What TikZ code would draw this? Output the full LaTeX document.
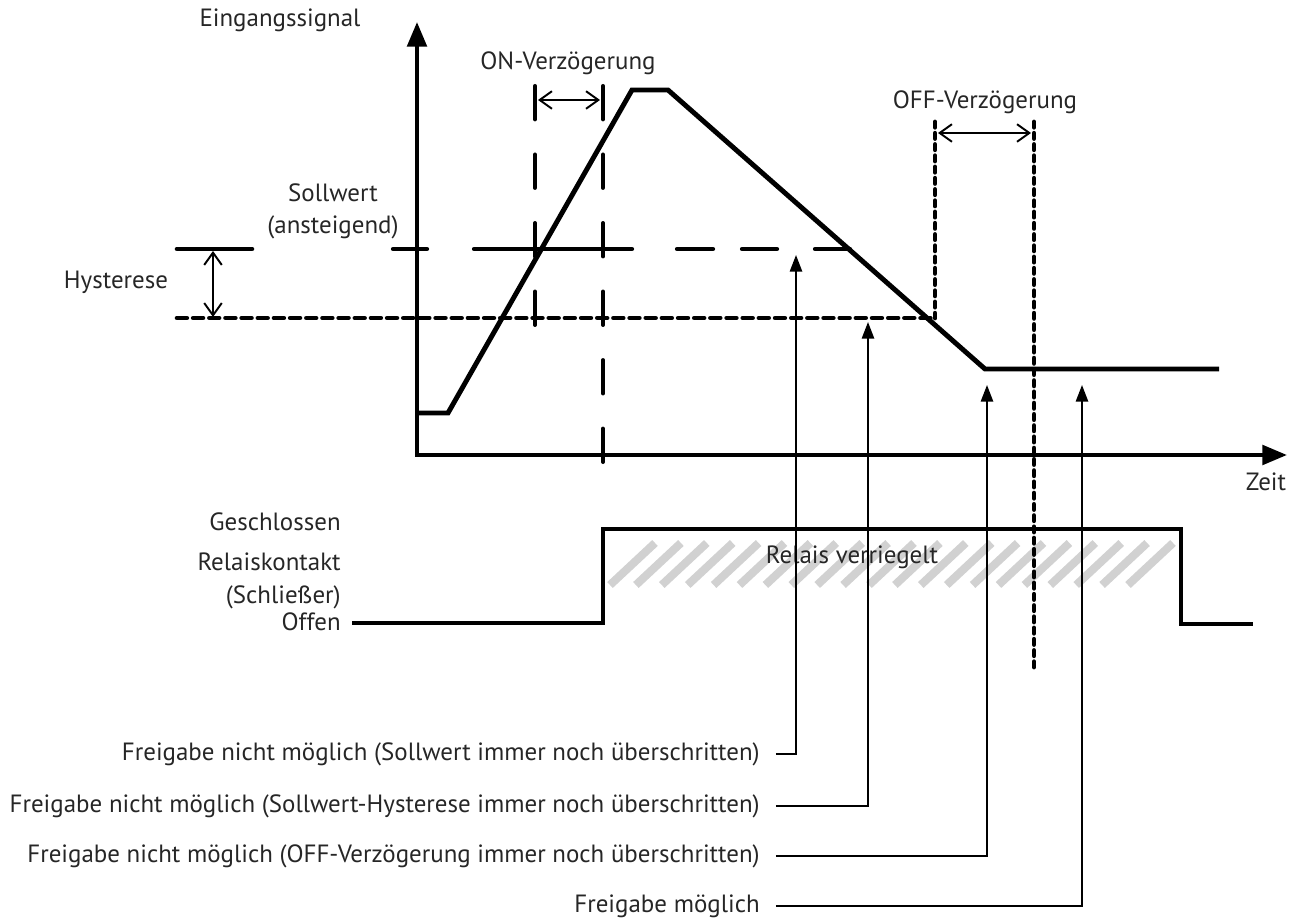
\documentclass[tikz,border=0pt]{standalone}
\usepackage{fontspec}
\setmainfont{PT Sans}
\usetikzlibrary{arrows.meta}
\begin{document}
\begin{tikzpicture}[x=0.02cm,y=-0.02cm,
  font=\fontsize{14.2}{17}\selectfont,
  lbl/.style={inner sep=0pt, text=black!85},
  thickln/.style={line width=2.8pt, line join=miter},
  axisln/.style={line width=2.4pt, -{Triangle[length=14pt,width=11pt]}},
  ondash/.style={line width=2.3pt, line cap=round, dash pattern=on 19pt off 20pt},
  dotln/.style={line width=2.6pt, line cap=round, dash pattern=on 5.6pt off 3.6pt},
  vdotln/.style={line width=2.7pt, line cap=round, dash pattern=on 3pt off 3.4pt},
  setln/.style={line width=2.4pt, line cap=round},
  delayarrow/.style={line width=1.1pt, {Straight Barb[length=7pt,width=10pt]}-{Straight Barb[length=7pt,width=10pt]}},
  labarrow/.style={line width=1.1pt, -{Triangle[length=9.5pt,width=7pt]}},
  hatch/.style={line width=4.6pt, draw=black!18, line cap=butt}
]
\useasboundingbox (0,0) rectangle (1306,918);

% hatch
\foreach \i in {0,...,20} {
  \draw[hatch] ({610+25.9*\i},585) -- ({655+25.9*\i},543);
}

% axes
\coordinate (O) at (417,457);
\coordinate (ytip) at (417,22);
\coordinate (xo) at (415,455);
\coordinate (xtip) at (1287,455);
\draw[axisln] (O) -- (ytip);
\draw[axisln] (xo) -- (xtip);

% ON delay vertical lines
\coordinate (on1t) at (535,86);
\coordinate (on1b) at (535,332);
\coordinate (on2t) at (603,86);
\coordinate (on2b) at (603,477);
\draw[ondash] (on1t) -- (on1b);
\draw[ondash] (on2t) -- (on2b);

% OFF delay vertical lines
\coordinate (off1t) at (935,122);
\coordinate (off1b) at (935,318);
\coordinate (off2t) at (1034,122);
\coordinate (off2b) at (1034,667);
\draw[vdotln] (off1t) -- (off1b);
\draw[vdotln] (off2t) -- (off2b);

% setpoint line (long dashes)
\draw[setln] (393,249) -- (427,249);
\draw[setln] (474,249) -- (632,249);
\draw[setln] (677,249) -- (713,249);
\draw[setln] (742,249) -- (777,249);
\draw[setln] (815,249) -- (850,249);

% hysteresis line
\coordinate (hs) at (177,318);
\coordinate (he) at (935,318);
\draw[dotln] (hs) -- (he);
% hysteresis bar
\coordinate (hb1) at (177,249);
\coordinate (hb2) at (252,249);
\draw[line width=2.6pt, line cap=round] (hb1) -- (hb2);
\coordinate (ha1) at (213,251);
\coordinate (ha2) at (213,317);
\draw[delayarrow] (ha1) -- (ha2);

% signal curve
\coordinate (c0) at (417,413);
\coordinate (c1) at (448,413);
\coordinate (c2) at (632,90);
\coordinate (c3) at (668,90);
\coordinate (c4) at (985,369);
\coordinate (c5) at (1219,369);
\draw[thickln] (c0) -- (c1) -- (c2) -- (c3) -- (c4) -- (c5);

% relay signal
\coordinate (r0) at (352,623);
\coordinate (r1) at (603,623);
\coordinate (r2) at (603,529);
\coordinate (r3) at (1181,529);
\coordinate (r4) at (1181,624);
\coordinate (r5) at (1253,624);
\draw[thickln] (r0) -- (r1) -- (r2) -- (r3) -- (r4) -- (r5);

% delay arrows
\coordinate (ona) at (538,100);
\coordinate (onb) at (600,100);
\draw[delayarrow] (ona) -- (onb);
\coordinate (offa) at (938,133);
\coordinate (offb) at (1031,133);
\draw[delayarrow] (offa) -- (offb);

% texts
\node[lbl] (eing) at (280,20) {Eingangssignal};
\node[lbl] (ondl) at (568,63) {ON-Verzögerung};
\node[lbl] (offdl) at (985,102) {OFF-Verzögerung};
\node[lbl] (soll1) at (333,193) {Sollwert};
\node[lbl] (soll2) at (333,227) {(ansteigend)};
\node[lbl] (hyst) at (116,282) {Hysterese};
\node[lbl] (zeit) at (1266,482) {Zeit};
\node[lbl] (rv) at (852,557) {Relais verriegelt};
\node[lbl, anchor=east] (gesch) at (341,522) {Geschlossen};
\node[lbl, anchor=east] (rk) at (341,562) {Relaiskontakt};
\node[lbl, anchor=east] (schl) at (341,597) {(Schließer)};
\node[lbl, anchor=east] (offen) at (341,622) {Offen};

\node[lbl, anchor=east] (l1) at (760,754) {Freigabe nicht möglich (Sollwert immer noch überschritten)};
\node[lbl, anchor=east] (l2) at (760,806) {Freigabe nicht möglich (Sollwert-Hysterese immer noch überschritten)};
\node[lbl, anchor=east] (l3) at (760,856) {Freigabe nicht möglich (OFF-Verzögerung immer noch überschritten)};
\node[lbl, anchor=east] (l4) at (760,906) {Freigabe möglich};

% label connectors
\coordinate (a1) at (796,255);
\coordinate (a2) at (868,322);
\coordinate (a3) at (987,385);
\coordinate (a4) at (1082,385);
\draw[labarrow] ([xshift=9pt]l1.east) -| (a1);
\draw[labarrow] ([xshift=9pt]l2.east) -| (a2);
\draw[labarrow] ([xshift=9pt]l3.east) -| (a3);
\draw[labarrow] ([xshift=9pt]l4.east) -| (a4);
\end{tikzpicture}
\end{document}
